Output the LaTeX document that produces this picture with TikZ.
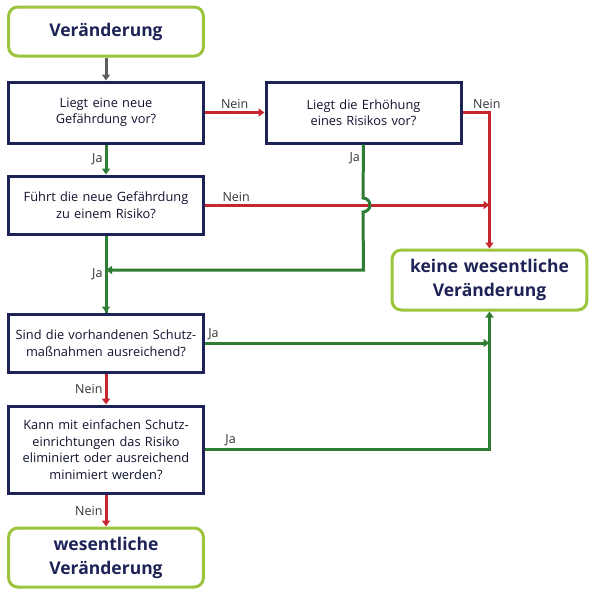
\documentclass[tikz,border=0pt]{standalone}
\usepackage{fontspec}
\setmainfont{Open Sans}
\usetikzlibrary{arrows.meta}

\definecolor{navy}{HTML}{1E2357}
\definecolor{lime}{HTML}{9CC43C}
\definecolor{jagreen}{HTML}{2F7D35}
\definecolor{neinred}{HTML}{C6262E}
\definecolor{startgray}{HTML}{5E5E5E}

\begin{document}
\begin{tikzpicture}[x=1pt,y=-1pt,line width=3pt,
	arrows={-Triangle[width=8pt,length=6pt]},
	box/.style={draw=navy,minimum width=193pt,text width=188pt,align=center,
		font=\fontsize{12.8}{16.5}\selectfont,text=navy!50!black,arrows=-},
	endbox/.style={draw=lime,rounded corners=9pt,minimum width=193pt,text width=188pt,align=center,
		font=\fontsize{17.5}{24}\selectfont\bfseries,text=navy,arrows=-},
	ja/.style={draw=jagreen},
	nein/.style={draw=neinred},
	lbl/.style={font=\fontsize{12.5}{14}\selectfont,text=black!80,inner sep=2pt}]
	\useasboundingbox (0,0) rectangle (600,598);
	\node[endbox, minimum height=49pt] (start) at (106,31.5) {Veränderung};
	\node[box, minimum height=61pt] (q1) at (106,112.5) {Liegt eine neue\\Gefährdung vor?};
	\node[box, minimum height=61pt, minimum width=195pt] (q2) at (363.5,112.5) {Liegt die Erhöhung\\eines Risikos vor?};
	\node[box, minimum height=58pt] (q3) at (106,205) {Führt die neue Gefährdung\\zu einem Risiko?};
	\node[endbox, minimum height=60pt] (keine) at (489.5,280) {keine wesentliche\\Veränderung};
	\node[box, minimum height=58pt] (q4) at (106,343) {Sind die vorhandenen Schutz-\\maßnahmen ausreichend?};
	\node[box, minimum height=87pt] (q5) at (106,449.5) {Kann mit einfachen Schutz-\\einrichtungen das Risiko\\eliminiert oder ausreichend\\minimiert werden?};
	\node[endbox, minimum height=59pt] (wes) at (106,557.5) {wesentliche\\Veränderung};
	\coordinate (join) at (106,270);
	\draw[draw=startgray] (start) to (q1);
	\draw[nein] (q1) to node[lbl,above] {Nein} (q2);
	\draw[ja] (q1) to node[lbl,left] {Ja} (q3);
	\draw[nein] (q2.east) -| node[lbl,pos=.45,above] {Nein} (keine.north);
	\draw[nein] (q3.east) to node[lbl,pos=.11,above] {Nein} (keine.north |- q3.east);
	\draw[ja] (q2.south) -- node[lbl,pos=.25,left] {Ja} (363,198) arc (-90:90:7) -- (q2.south |- join) -- (join);
	\draw[ja,arrows=-] (q3) to node[lbl,left] {Ja} (q4);
	\draw[ja] (join) ++(0,-1) -- (q4.north);
	\draw[ja] (q4.east) to node[lbl,pos=0,above right] {Ja} (keine.south |- q4.east);
	\draw[ja] (q5.east) -| node[lbl,pos=.03,above right] {Ja} (keine.south);
	\draw[nein] (q4) to node[lbl,left] {Nein} (q5);
	\draw[nein] (q5) to node[lbl,left] {Nein} (wes);
\end{tikzpicture}
\end{document}
